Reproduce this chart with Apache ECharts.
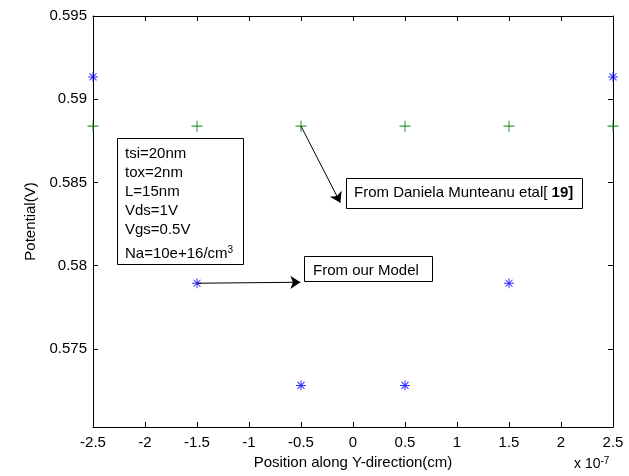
<!DOCTYPE html>
<html>
<head>
<meta charset="utf-8">
<script src="https://cdn.jsdelivr.net/npm/echarts@6/dist/echarts.min.js"></script>
<style>
html, body { margin: 0; padding: 0; background: #fff; }
#main { width: 629px; height: 476px; }
</style>
</head>
<body>
<div id="main"></div>
<script type="text/javascript">
// x positions in units of 1e-7 cm
var xPos = [-2.5, -1.5, -0.5, 0.5, 1.5, 2.5];
// from our model (blue *)
var modelVals = [0.59134, 0.57894, 0.57280, 0.57280, 0.57894, 0.59134];
// from Daniela Munteanu etal [19] (green +)
var refVals = [0.58838, 0.58838, 0.58838, 0.58838, 0.58838, 0.58838];
var yTicks = [0.575, 0.58, 0.585, 0.59, 0.595];
var boxLines = ['tsi=20nm', 'tox=2nm', 'L=15nm', 'Vds=1V', 'Vgs=0.5V'];

var FONT = 'Liberation Sans, Arial, sans-serif';
var FS = 15;

function pairs(xs, ys) {
	var out = [];
	for (var i = 0; i < xs.length; i++) {
		out.push([xs[i], ys[i]]);
	}
	return out;
}

// marker shapes drawn as thin filled bars
var plusPath = 'path://M9,0 L11,0 L11,20 L9,20 Z M0,9 L20,9 L20,11 L0,11 Z';
var starPath = 'path://M9,0 L11,0 L11,20 L9,20 Z M0,9 L20,9 L20,11 L0,11 Z ' +
	'M3.7,2.3 L17.7,16.3 L16.3,17.7 L2.3,3.7 Z ' +
	'M16.3,2.3 L17.7,3.7 L3.7,17.7 L2.3,16.3 Z';

var lineStyle = { color: '#000', width: 1 };
var tickStyle = { inside: true, length: 5, lineStyle: lineStyle };

var myChart = echarts.init(document.getElementById('main'));

var graphics = [
	{
		type: 'rect', left: 117, top: 138, z: 10,
		shape: { width: 126, height: 126 },
		style: { fill: '#fff', stroke: '#000', lineWidth: 1 }
	}
];
for (var i = 0; i < boxLines.length; i++) {
	graphics.push({
		type: 'text', left: 125, top: 146 + i * 19.2, z: 11,
		style: { text: boxLines[i], font: FS + 'px ' + FONT, fill: '#000' }
	});
}
graphics.push(
	{
		type: 'text', left: 125, top: 245, z: 11,
		style: {
			text: 'Na=10e+16/cm{s|3}',
			font: FS + 'px ' + FONT, fill: '#000',
			rich: { s: { fontSize: 10, fontFamily: FONT, verticalAlign: 'top', padding: [0, 0, 7, 0] } }
		}
	},
	{
		type: 'rect', left: 346, top: 178, z: 10,
		shape: { width: 236, height: 30 },
		style: { fill: '#fff', stroke: '#000', lineWidth: 1 }
	},
	{
		type: 'text', left: 354, top: 185, z: 11,
		style: {
			text: 'From Daniela Munteanu etal[ {b|19]}',
			font: FS + 'px ' + FONT, fill: '#000',
			rich: { b: { fontWeight: 'bold', fontSize: FS, fontFamily: FONT } }
		}
	},
	{
		type: 'rect', left: 304, top: 256, z: 10,
		shape: { width: 128, height: 25 },
		style: { fill: '#fff', stroke: '#000', lineWidth: 1 }
	},
	{
		type: 'text', left: 313, top: 263, z: 11,
		style: { text: 'From our Model', font: FS + 'px ' + FONT, fill: '#000' }
	},
	{
		type: 'text', left: 574, top: 456, z: 11,
		style: {
			text: 'x 10{s|-7}',
			font: '14px ' + FONT, fill: '#000',
			rich: { s: { fontSize: 10, fontFamily: FONT, verticalAlign: 'top', padding: [0, 0, 7, 0] } }
		}
	}
);

var option = {
	animation: false,
	backgroundColor: '#fff',
	grid: { left: 93, top: 16, right: 16, bottom: 49 },
	xAxis: [{
		type: 'value', min: -2.5, max: 2.5, interval: 0.5,
		name: 'Position along Y-direction(cm)', nameLocation: 'middle', nameGap: 28,
		nameTextStyle: { color: '#000', fontFamily: FONT, fontSize: FS },
		axisLine: { onZero: false, lineStyle: lineStyle },
		axisTick: tickStyle,
		axisLabel: {
			color: '#000', fontFamily: FONT, fontSize: FS, margin: 8,
			formatter: function (v) { return String(+v.toFixed(2)); }
		},
		splitLine: { show: false }
	}, {
		type: 'value', min: -2.5, max: 2.5, interval: 0.5, position: 'top',
		axisLine: { onZero: false, lineStyle: lineStyle },
		axisTick: tickStyle,
		axisLabel: { show: false },
		splitLine: { show: false }
	}],
	yAxis: [{
		type: 'value', min: 0.5703, max: 0.595,
		name: 'Potential(V)', nameLocation: 'middle', nameGap: 54,
		nameTextStyle: { color: '#000', fontFamily: FONT, fontSize: FS },
		axisLine: { show: true, onZero: false, lineStyle: lineStyle },
		axisTick: { show: true, inside: true, length: 5, lineStyle: lineStyle, customValues: yTicks },
		axisLabel: {
			color: '#000', fontFamily: FONT, fontSize: FS, margin: 6, customValues: yTicks,
			formatter: function (v) { return String(+v.toFixed(3)); }
		},
		splitLine: { show: false }
	}, {
		type: 'value', min: 0.5703, max: 0.595, position: 'right',
		axisLine: { show: true, onZero: false, lineStyle: lineStyle },
		axisTick: { show: true, inside: true, length: 5, lineStyle: lineStyle, customValues: yTicks },
		axisLabel: { show: false },
		splitLine: { show: false }
	}],
	series: [{
		name: 'From Daniela Munteanu etal[19]',
		type: 'scatter',
		clip: false,
		symbol: plusPath,
		symbolSize: 11,
		itemStyle: { color: '#008000' },
		data: pairs(xPos, refVals),
		markLine: {
			silent: true,
			symbol: ['none', 'arrow'],
			symbolSize: 10,
			label: { show: false },
			lineStyle: { color: '#000', width: 1, type: 'solid' },
			data: [[{ coord: [-0.5, 0.58838] }, { coord: [-0.122, 0.58378] }]]
		},
		z: 3
	}, {
		name: 'From our Model',
		type: 'scatter',
		clip: false,
		symbol: starPath,
		symbolSize: 10,
		itemStyle: { color: '#0000ff' },
		data: pairs(xPos, modelVals),
		markLine: {
			silent: true,
			symbol: ['none', 'arrow'],
			symbolSize: 10,
			label: { show: false },
			lineStyle: { color: '#000', width: 1, type: 'solid' },
			data: [[{ coord: [-1.5, 0.57894] }, { coord: [-0.506, 0.57900] }]]
		},
		z: 4
	}],
	graphic: graphics
};
myChart.setOption(option);
</script>
</body>
</html>
